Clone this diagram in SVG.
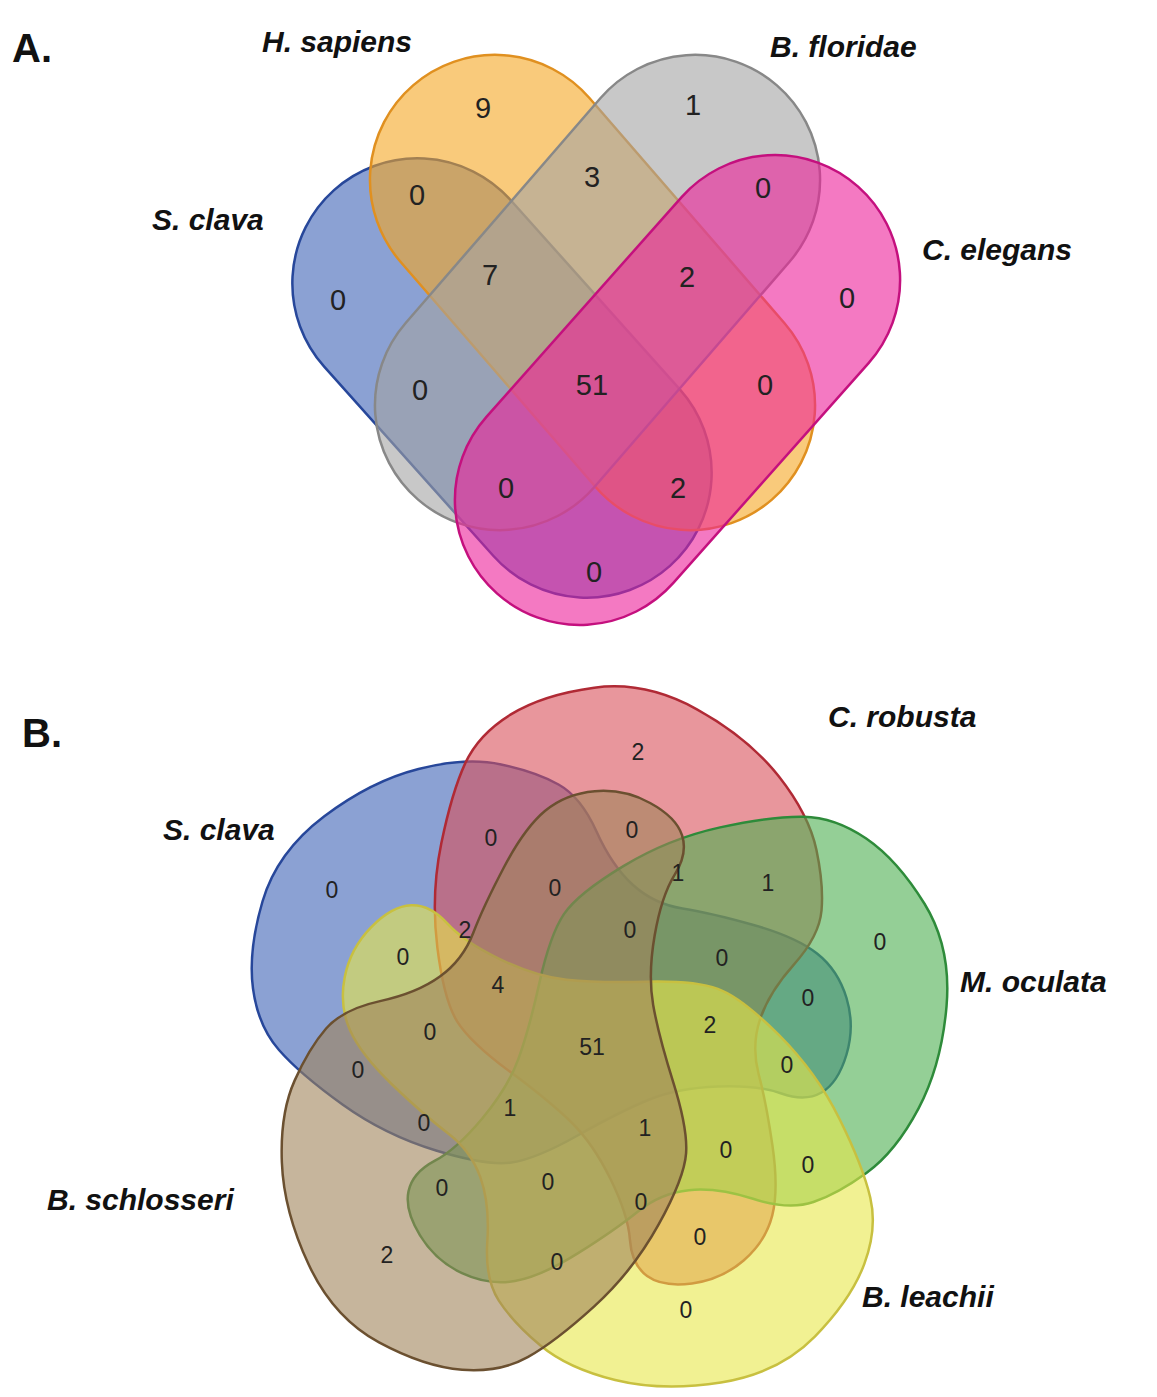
<svg xmlns="http://www.w3.org/2000/svg" width="1157" height="1397" viewBox="0 0 1157 1397">
<style>
.n{font-family:"Liberation Sans",Arial,sans-serif;font-size:29px;fill:#222;text-anchor:middle;dominant-baseline:central}
.m{font-family:"Liberation Sans",Arial,sans-serif;font-size:23px;fill:#222;text-anchor:middle;dominant-baseline:central}
.l{font-family:"Liberation Sans",Arial,sans-serif;font-size:30px;font-weight:bold;font-style:italic;fill:#111}
.h{font-family:"Liberation Sans",Arial,sans-serif;font-size:40px;font-weight:bold;fill:#111}
.s{fill-opacity:0.6;stroke-width:2.5}
</style>
<defs>
<path id="petal" d="M-340,-61.5 Q-345,-99 -330.5,-148.5 Q-316,-198 -269,-233.5 Q-222,-269 -174.5,-281 Q-127,-293 -92,-285.5 Q-57,-278 -34.5,-265.5 Q-12,-253 3.5,-218.5 Q19,-184 40,-165 Q61,-146 89.5,-141.5 Q118,-137 160.5,-125 Q203,-113 224,-96.5 Q245,-80 253.5,-52 Q262,-24 253.5,4.5 Q245,33 228.5,42.5 Q212,52 188.5,43.5 Q165,35 125,36.5 Q85,38 56.5,49.5 Q28,61 -14.5,85 Q-57,109 -81.5,112.5 Q-106,116 -157,100.5 Q-208,85 -250.5,54.5 Q-293,24 -314,0 Q-335,-24 -340,-61.5 Z"/>
</defs>
<rect width="1157" height="1397" fill="#fff"/>
<g id="panelA">
<text class="h" x="12" y="62">A.</text>
<rect class="s" x="-252" y="-125" width="504" height="250" rx="125" fill="#3d63b5" stroke="#27479a" transform="translate(502,378) rotate(48.2)"/>
<rect class="s" x="-274" y="-125" width="548" height="250" rx="125" fill="#f5a623" stroke="#e09020" transform="translate(592.5,292.5) rotate(49.1)"/>
<rect class="s" x="-274" y="-125" width="548" height="250" rx="125" fill="#a3a3a3" stroke="#888" transform="translate(597.5,292.5) rotate(-49.1)"/>
<rect class="s" x="-272" y="-125" width="544" height="250" rx="125" fill="#ec1f9a" stroke="#c4107e" transform="translate(677.5,390) rotate(-48.4)"/>
<text class="l" x="262" y="52">H. sapiens</text>
<text class="l" x="770" y="57">B. floridae</text>
<text class="l" x="152" y="230">S. clava</text>
<text class="l" x="922" y="260">C. elegans</text>
<text class="n" x="483" y="108">9</text><text class="n" x="693" y="105">1</text>
<text class="n" x="417" y="195">0</text><text class="n" x="592" y="177">3</text><text class="n" x="763" y="188">0</text>
<text class="n" x="338" y="300">0</text><text class="n" x="490" y="275">7</text><text class="n" x="687" y="277">2</text><text class="n" x="847" y="298">0</text>
<text class="n" x="420" y="390">0</text><text class="n" x="592" y="385">51</text><text class="n" x="765" y="385">0</text>
<text class="n" x="506" y="488">0</text><text class="n" x="678" y="488">2</text><text class="n" x="594" y="572">0</text>
</g>
<g id="panelB">
<text class="h" x="22" y="747">B.</text>
<use href="#petal" class="s" fill="#3d63b5" stroke="#27479a" transform="translate(593,1050)"/>
<use href="#petal" class="s" fill="#d9505a" stroke="#b02a35" transform="translate(593,1050) rotate(66)"/>
<use href="#petal" class="s" fill="#4caf50" stroke="#2e8b3a" transform="translate(593,1050) rotate(132)"/>
<use href="#petal" class="s" fill="#e8e84a" stroke="#c8c040" transform="translate(593,1050) rotate(208)"/>
<use href="#petal" class="s" fill="#a0835a" stroke="#6b5030" transform="translate(593,1050) rotate(282)"/>
<text class="l" x="828" y="727">C. robusta</text>
<text class="l" x="163" y="840">S. clava</text>
<text class="l" x="960" y="992">M. oculata</text>
<text class="l" x="47" y="1210">B. schlosseri</text>
<text class="l" x="862" y="1307">B. leachii</text>
<text class="m" x="638" y="752">2</text><text class="m" x="491" y="838">0</text><text class="m" x="632" y="830">0</text>
<text class="m" x="332" y="890">0</text><text class="m" x="555" y="888">0</text><text class="m" x="678" y="873">1</text><text class="m" x="768" y="883">1</text>
<text class="m" x="465" y="930">2</text><text class="m" x="630" y="930">0</text><text class="m" x="403" y="957">0</text><text class="m" x="722" y="958">0</text><text class="m" x="880" y="942">0</text>
<text class="m" x="498" y="985">4</text><text class="m" x="808" y="998">0</text><text class="m" x="430" y="1032">0</text><text class="m" x="710" y="1025">2</text>
<text class="m" x="592" y="1047">51</text><text class="m" x="358" y="1070">0</text><text class="m" x="787" y="1065">0</text>
<text class="m" x="510" y="1108">1</text><text class="m" x="645" y="1128">1</text><text class="m" x="424" y="1123">0</text><text class="m" x="726" y="1150">0</text><text class="m" x="808" y="1165">0</text>
<text class="m" x="442" y="1188">0</text><text class="m" x="548" y="1182">0</text><text class="m" x="641" y="1202">0</text><text class="m" x="700" y="1237">0</text>
<text class="m" x="387" y="1255">2</text><text class="m" x="557" y="1262">0</text><text class="m" x="686" y="1310">0</text>
</g>
</svg>
